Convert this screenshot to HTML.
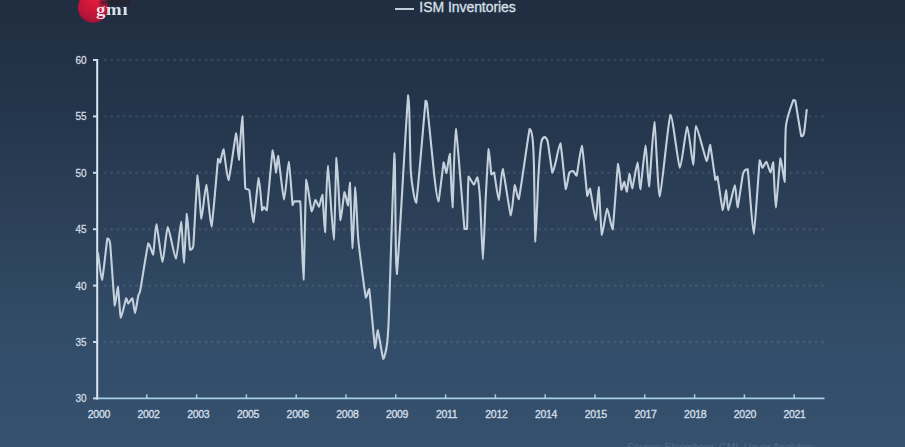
<!DOCTYPE html>
<html><head><meta charset="utf-8"><style>
html,body{margin:0;padding:0;}
body{width:905px;height:447px;overflow:hidden;position:relative;
background:linear-gradient(to bottom,#212d40 0px,#24364c 120px,#2c4159 226px,#324c68 330px,#34506d 422px,#35526f 447px);
font-family:"Liberation Sans",sans-serif;}
svg{position:absolute;left:0;top:0;filter:blur(0.35px);}
.yl{position:absolute;left:56px;width:30.5px;text-align:right;font-size:10px;letter-spacing:-0.1px;line-height:13px;color:#d0d9e2;-webkit-text-stroke:0.3px #d0d9e2;}
.xl{position:absolute;top:407px;width:40px;text-align:center;font-size:10.5px;line-height:14px;color:#d3dde6;letter-spacing:-0.3px;-webkit-text-stroke:0.35px #d3dde6;}
.legend{position:absolute;left:419.3px;top:-0.7px;font-size:14px;line-height:16px;color:#d9e1e9;-webkit-text-stroke:0.3px #d9e1e9;letter-spacing:-0.05px;}
.lgline{position:absolute;left:394.8px;top:8.2px;width:19.4px;height:2.2px;background:#c3ceda;filter:blur(0.3px);}
.logo{position:absolute;left:78px;top:-7.6px;width:30.4px;height:30.4px;border-radius:50%;
background:radial-gradient(circle at 60% 22%,#e81e3e 0%,#cc173a 40%,#b41538 68%,#801333 88%,#4e1830 100%);filter:blur(0.4px);}
.band{position:absolute;left:100px;top:0;width:30px;height:5px;background:#2a1f2c;opacity:0.7;filter:blur(1px);}
.gmi{position:absolute;left:95.8px;top:-0.3px;transform:scaleX(1.14);transform-origin:0 0;font-family:"Liberation Serif",serif;font-weight:bold;font-size:16.5px;line-height:20px;color:rgba(236,241,246,0.92);letter-spacing:0.6px;filter:blur(0.3px);}
.src{position:absolute;left:627px;top:441px;font-size:10.3px;line-height:13px;color:#4f6c88;letter-spacing:-0.1px;}
</style></head><body>
<div class="logo"></div><div class="band"></div><div class="gmi">gmı</div>
<div class="lgline"></div><div class="legend">ISM Inventories</div>
<svg width="905" height="447" viewBox="0 0 905 447"><line x1="103.9" y1="60.0" x2="824.5" y2="60.0" stroke="#a8bcd0" stroke-opacity="0.13" stroke-width="2.4" stroke-dasharray="3 3.29"/><line x1="103.9" y1="116.4" x2="824.5" y2="116.4" stroke="#a8bcd0" stroke-opacity="0.13" stroke-width="2.4" stroke-dasharray="3 3.29"/><line x1="103.9" y1="172.8" x2="824.5" y2="172.8" stroke="#a8bcd0" stroke-opacity="0.13" stroke-width="2.4" stroke-dasharray="3 3.29"/><line x1="103.9" y1="229.2" x2="824.5" y2="229.2" stroke="#a8bcd0" stroke-opacity="0.13" stroke-width="2.4" stroke-dasharray="3 3.29"/><line x1="103.9" y1="285.6" x2="824.5" y2="285.6" stroke="#a8bcd0" stroke-opacity="0.13" stroke-width="2.4" stroke-dasharray="3 3.29"/><line x1="103.9" y1="342.0" x2="824.5" y2="342.0" stroke="#a8bcd0" stroke-opacity="0.13" stroke-width="2.4" stroke-dasharray="3 3.29"/><line x1="96" y1="398.4" x2="824.5" y2="398.4" stroke="#a9cde3" stroke-width="1.7"/><line x1="146.8" y1="394.3" x2="146.8" y2="398.4" stroke="#a9cde3" stroke-width="1.5"/><line x1="196.6" y1="394.3" x2="196.6" y2="398.4" stroke="#a9cde3" stroke-width="1.5"/><line x1="246.4" y1="394.3" x2="246.4" y2="398.4" stroke="#a9cde3" stroke-width="1.5"/><line x1="296.2" y1="394.3" x2="296.2" y2="398.4" stroke="#a9cde3" stroke-width="1.5"/><line x1="346.0" y1="394.3" x2="346.0" y2="398.4" stroke="#a9cde3" stroke-width="1.5"/><line x1="395.8" y1="394.3" x2="395.8" y2="398.4" stroke="#a9cde3" stroke-width="1.5"/><line x1="445.6" y1="394.3" x2="445.6" y2="398.4" stroke="#a9cde3" stroke-width="1.5"/><line x1="495.4" y1="394.3" x2="495.4" y2="398.4" stroke="#a9cde3" stroke-width="1.5"/><line x1="545.2" y1="394.3" x2="545.2" y2="398.4" stroke="#a9cde3" stroke-width="1.5"/><line x1="595.0" y1="394.3" x2="595.0" y2="398.4" stroke="#a9cde3" stroke-width="1.5"/><line x1="644.8" y1="394.3" x2="644.8" y2="398.4" stroke="#a9cde3" stroke-width="1.5"/><line x1="694.6" y1="394.3" x2="694.6" y2="398.4" stroke="#a9cde3" stroke-width="1.5"/><line x1="744.4" y1="394.3" x2="744.4" y2="398.4" stroke="#a9cde3" stroke-width="1.5"/><line x1="794.2" y1="394.3" x2="794.2" y2="398.4" stroke="#a9cde3" stroke-width="1.5"/><line x1="97.2" y1="59" x2="97.2" y2="399.4" stroke="#dae7f3" stroke-width="2"/><line x1="93" y1="60.0" x2="97" y2="60.0" stroke="#c8d9ea" stroke-width="2"/><line x1="93" y1="116.4" x2="97" y2="116.4" stroke="#c8d9ea" stroke-width="2"/><line x1="93" y1="172.8" x2="97" y2="172.8" stroke="#c8d9ea" stroke-width="2"/><line x1="93" y1="229.2" x2="97" y2="229.2" stroke="#c8d9ea" stroke-width="2"/><line x1="93" y1="285.6" x2="97" y2="285.6" stroke="#c8d9ea" stroke-width="2"/><line x1="93" y1="342.0" x2="97" y2="342.0" stroke="#c8d9ea" stroke-width="2"/><line x1="93" y1="398.4" x2="97" y2="398.4" stroke="#c8d9ea" stroke-width="2"/><path d="M98.00,253.00 C98.40,255.70 101.06,280.00 102.00,280.00 C102.94,278.55 106.59,242.18 107.40,238.50 C108.21,238.50 109.36,238.50 110.10,243.20 C110.84,249.91 114.02,301.24 114.80,305.60 C115.58,305.60 117.30,286.80 117.90,286.80 C118.50,288.01 119.97,316.56 120.80,317.70 C121.63,317.70 125.46,299.61 126.20,298.20 C126.94,298.20 127.59,303.60 128.20,303.60 C128.81,303.60 131.62,298.20 132.30,298.20 C132.98,299.14 134.40,313.00 135.00,313.00 C135.60,312.73 137.77,297.79 138.30,295.50 C138.83,293.21 139.29,295.33 140.30,290.10 C141.31,284.87 147.12,246.75 148.40,243.20 C149.68,243.20 152.30,254.60 153.10,254.60 C153.90,252.72 155.46,224.40 156.40,224.40 C157.34,225.14 161.36,261.73 162.50,262.00 C163.64,262.00 166.46,227.44 167.80,227.10 C169.14,227.10 174.56,258.60 175.90,258.60 C177.24,258.06 180.40,221.70 181.20,221.70 C182.00,222.11 183.33,262.70 183.90,262.70 C184.47,261.90 186.29,214.98 186.90,213.70 C187.51,213.70 189.36,246.68 190.00,249.90 C190.64,249.90 192.54,249.90 193.30,245.90 C194.06,238.45 196.79,178.12 197.60,175.40 C198.41,175.40 200.53,217.76 201.40,218.70 C202.27,218.70 205.29,184.80 206.30,184.80 C207.31,185.58 210.32,226.50 211.50,226.50 C212.68,223.89 217.24,165.08 218.10,158.70 C218.96,158.70 219.56,162.70 220.10,162.70 C220.64,161.76 222.66,149.30 223.50,149.30 C224.34,151.04 227.23,180.10 228.50,180.10 C229.77,178.49 235.16,135.21 236.20,133.20 C237.24,133.20 238.29,160.00 238.90,160.00 C239.51,158.32 241.66,116.40 242.30,116.40 C242.94,119.22 244.60,180.82 245.30,188.20 C246.00,190.20 248.50,188.20 249.30,190.20 C250.10,193.61 252.36,222.30 253.30,222.30 C254.24,221.09 257.82,179.30 258.70,178.10 C259.58,178.10 261.57,207.41 262.10,210.30 C262.63,210.30 263.53,207.00 264.00,207.00 C264.47,207.00 265.93,210.30 266.80,210.30 C267.67,204.64 271.77,154.18 272.70,150.40 C273.63,150.40 275.56,171.97 276.10,172.50 C276.64,172.50 277.30,155.70 278.10,155.70 C278.90,158.39 283.03,198.79 284.10,199.40 C285.17,199.40 287.95,161.80 288.80,161.80 C289.65,162.36 292.05,201.04 292.60,205.00 C293.15,205.00 293.54,201.76 294.30,201.40 C295.06,201.40 299.28,201.40 300.20,201.40 C301.12,209.22 302.89,279.60 303.50,279.60 C304.11,277.45 305.48,186.72 306.30,179.90 C307.12,179.90 310.78,209.39 311.70,211.40 C312.62,211.40 314.77,200.47 315.50,200.00 C316.23,200.00 318.31,206.70 319.00,206.70 C319.69,206.17 321.80,194.70 322.40,194.70 C323.00,197.25 324.46,232.20 325.00,232.20 C325.54,229.31 326.92,165.80 327.80,165.80 C328.68,166.54 332.93,239.60 333.80,239.60 C334.67,238.80 335.83,159.75 336.50,157.80 C337.17,157.80 339.70,216.68 340.50,220.10 C341.30,220.10 343.76,193.47 344.50,192.00 C345.24,192.00 347.36,205.40 347.90,205.40 C348.44,204.46 349.43,182.60 349.90,182.60 C350.37,186.89 352.06,247.83 352.60,248.30 C353.14,248.30 354.73,188.15 355.30,187.30 C355.87,187.30 357.24,228.76 358.30,239.80 C359.36,250.84 364.81,292.78 365.90,297.70 C366.99,297.70 368.28,289.00 369.20,289.00 C370.12,294.05 374.25,344.09 375.10,348.20 C375.95,348.20 376.89,330.10 377.70,330.10 C378.51,331.16 382.31,357.11 383.20,358.80 C384.09,358.80 386.05,350.88 386.60,347.00 C387.15,343.12 387.91,339.36 388.70,320.00 C389.49,300.64 393.69,157.98 394.50,153.40 C395.31,153.40 395.43,274.20 396.80,274.20 C398.17,268.40 406.80,105.64 408.20,95.40 C409.60,95.40 410.00,161.07 410.80,171.80 C411.60,182.53 414.72,202.70 416.20,202.70 C417.68,195.59 424.52,110.63 425.60,100.70 C426.68,100.70 426.13,100.70 427.00,103.40 C427.87,110.92 433.16,166.10 434.30,175.90 C435.44,185.70 437.46,201.40 438.40,201.40 C439.34,200.05 442.90,165.22 443.70,162.40 C444.50,162.40 445.79,173.20 446.40,173.20 C447.01,172.33 449.19,153.70 449.80,153.70 C450.41,157.12 451.90,207.40 452.50,207.40 C453.10,204.92 454.60,128.90 455.80,128.90 C457.00,131.05 463.38,218.90 464.50,228.90 C465.62,228.90 466.59,228.90 467.00,228.90 C467.41,223.66 467.91,180.93 468.60,176.50 C469.29,176.50 473.03,184.53 473.90,184.60 C474.77,184.60 476.68,177.20 477.30,177.20 C477.92,178.74 479.54,191.77 480.10,200.00 C480.66,208.23 482.35,259.50 482.90,259.50 C483.45,259.50 485.02,211.05 485.60,200.00 C486.18,188.95 488.12,151.55 488.70,149.00 C489.28,149.00 490.86,172.15 491.40,174.50 C491.94,174.50 493.36,172.50 494.10,172.50 C494.84,175.05 497.94,200.00 498.80,200.00 C499.66,199.65 501.50,169.00 502.70,169.00 C503.90,170.53 509.59,213.69 510.80,215.30 C512.01,215.30 514.00,186.71 514.80,185.10 C515.60,185.10 517.32,199.20 518.80,199.20 C520.28,193.60 528.24,135.28 529.60,129.10 C530.96,129.10 531.97,133.95 532.40,137.40 C532.83,140.85 533.60,153.18 533.90,163.60 C534.20,174.02 534.96,240.16 535.40,241.60 C535.84,241.60 537.72,187.86 538.30,178.00 C538.88,168.14 540.60,147.09 541.20,143.00 C541.80,138.91 543.65,137.22 544.30,137.10 C544.95,137.10 546.89,138.24 547.70,141.80 C548.51,145.36 551.60,170.68 552.40,172.70 C553.20,172.70 554.90,164.95 555.70,162.00 C556.50,159.05 559.39,143.20 560.40,143.20 C561.41,145.92 564.92,186.22 565.80,189.20 C566.68,189.20 568.46,174.82 569.20,173.00 C569.94,171.18 572.46,171.00 573.20,171.00 C573.94,171.27 575.73,175.70 576.60,175.70 C577.47,173.19 580.83,145.90 581.90,145.90 C582.97,147.92 586.49,191.64 587.30,195.90 C588.11,195.90 589.15,188.50 590.00,188.50 C590.85,190.92 594.93,220.10 595.80,220.10 C596.67,219.96 598.09,187.10 598.70,187.10 C599.31,188.58 601.05,232.74 601.90,234.90 C602.75,234.90 606.13,209.24 607.20,208.70 C608.27,208.70 611.51,229.50 612.60,229.50 C613.69,225.00 617.21,167.67 618.10,163.70 C618.99,163.70 620.89,187.99 621.50,189.80 C622.11,189.80 623.67,181.80 624.20,181.80 C624.73,182.00 626.27,191.80 626.80,191.80 C627.33,190.99 628.96,174.03 629.50,173.70 C630.04,173.70 631.39,188.50 632.20,188.50 C633.01,187.36 636.79,162.30 637.60,162.30 C638.41,162.37 639.50,189.20 640.30,189.20 C641.10,187.53 644.73,145.87 645.60,145.60 C646.47,145.60 648.12,186.50 649.00,186.50 C649.88,184.15 653.33,122.10 654.40,122.10 C655.47,123.10 658.09,196.50 659.70,196.50 C661.31,195.76 668.48,117.58 670.50,114.70 C672.52,114.70 678.23,166.49 679.90,167.70 C681.57,167.70 685.86,127.07 687.20,126.80 C688.54,126.80 692.42,165.00 693.30,165.00 C694.18,164.93 694.66,126.50 696.00,126.10 C697.34,126.10 705.29,159.12 706.70,161.00 C708.11,161.00 709.23,144.90 710.10,144.90 C710.97,146.79 714.67,176.74 715.40,179.90 C716.13,179.90 716.66,176.50 717.40,176.50 C718.14,179.52 721.92,208.75 722.80,210.10 C723.68,210.10 725.66,190.00 726.20,190.00 C726.74,190.00 727.33,210.10 728.20,210.10 C729.07,209.63 733.96,185.57 734.90,185.30 C735.84,185.30 736.79,207.40 737.60,207.40 C738.41,206.26 741.99,177.72 743.00,173.90 C744.01,170.08 746.63,169.20 747.70,169.20 C748.77,175.17 752.50,233.60 753.70,233.60 C754.90,232.72 758.83,166.98 759.70,160.40 C760.57,160.40 761.73,167.66 762.40,167.80 C763.07,167.80 765.59,161.80 766.40,161.80 C767.21,162.27 769.82,172.44 770.50,172.50 C771.18,172.50 772.67,162.40 773.20,162.40 C773.73,165.89 775.07,207.40 775.80,207.40 C776.53,207.00 779.62,160.95 780.50,158.40 C781.38,158.40 784.06,181.90 784.60,181.90 C785.14,178.68 785.03,134.38 785.90,126.20 C786.77,118.02 792.36,102.65 793.30,100.10 C794.24,100.10 794.50,100.10 795.30,100.70 C796.10,104.32 800.43,133.07 801.30,136.30 C802.17,136.30 803.46,135.62 804.00,133.00 C804.54,130.38 806.43,112.39 806.70,110.10" fill="none" stroke="#c4d0dc" stroke-width="2.1" stroke-linejoin="round" stroke-linecap="round"/></svg>
<div class="yl" style="top:54.0px">60</div><div class="yl" style="top:110.4px">55</div><div class="yl" style="top:166.8px">50</div><div class="yl" style="top:223.2px">45</div><div class="yl" style="top:279.6px">40</div><div class="yl" style="top:336.0px">35</div><div class="yl" style="top:392.4px">30</div><div class="xl" style="left:78.9px">2000</div><div class="xl" style="left:128.6px">2002</div><div class="xl" style="left:178.3px">2003</div><div class="xl" style="left:228.0px">2005</div><div class="xl" style="left:277.7px">2006</div><div class="xl" style="left:327.4px">2008</div><div class="xl" style="left:377.0px">2009</div><div class="xl" style="left:426.7px">2011</div><div class="xl" style="left:476.4px">2012</div><div class="xl" style="left:526.1px">2014</div><div class="xl" style="left:575.8px">2015</div><div class="xl" style="left:625.5px">2017</div><div class="xl" style="left:675.2px">2018</div><div class="xl" style="left:724.9px">2020</div><div class="xl" style="left:774.6px">2021</div>
<div class="src">Source: Bloomberg, GMI, Haver Analytics</div>
</body></html>
